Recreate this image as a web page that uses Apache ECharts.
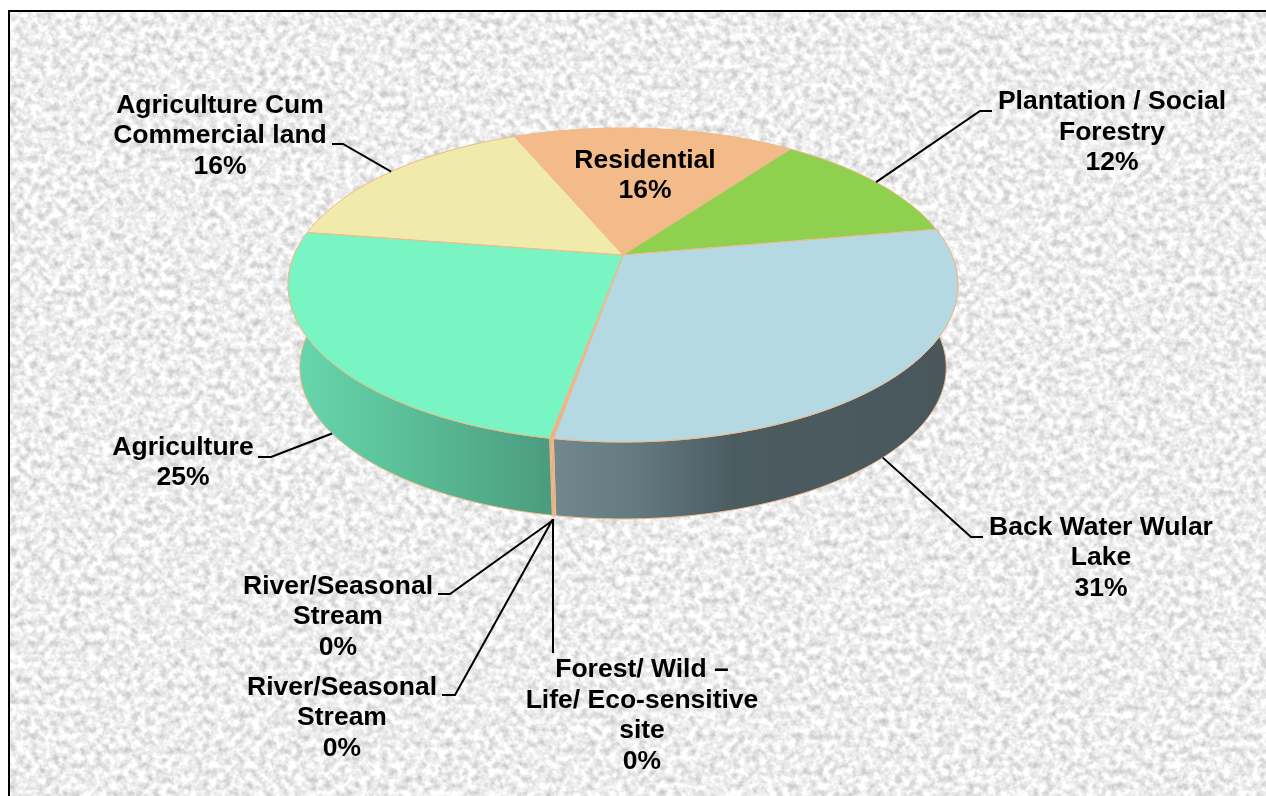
<!DOCTYPE html>
<html><head><meta charset="utf-8">
<style>
html,body{margin:0;padding:0;background:#fff;width:1266px;height:796px;overflow:hidden}
#bg{position:absolute;left:8px;top:10px;width:1256px;height:786px;border:2px solid #000;border-bottom:none;
background-color:#eee;background-image:url("data:image/svg+xml,%3Csvg xmlns='http://www.w3.org/2000/svg' width='1256' height='786'%3E%3Cfilter id='n' x='0' y='0' width='100%25' height='100%25' color-interpolation-filters='sRGB'%3E%3CfeTurbulence type='fractalNoise' baseFrequency='0.14' numOctaves='3' seed='7'/%3E%3CfeColorMatrix values='0.42 0 0 0 0.72 0.42 0 0 0 0.72 0.42 0 0 0 0.72 0 0 0 0 1'/%3E%3C/filter%3E%3Crect width='1256' height='786' filter='url(%23n)'/%3E%3C/svg%3E")}
#c{position:absolute;left:0;top:0;width:1266px;height:796px}
</style>
<script src="https://cdn.jsdelivr.net/npm/echarts@6/dist/echarts.min.js"></script>
</head><body><div id="bg"></div><div id="c"></div>
<script>
const categories = ['Residential','Plantation / Social\nForestry','Back Water Wular\nLake','Forest/ Wild \u2013\nLife/ Eco-sensitive\nsite','River/Seasonal\nStream','River/Seasonal\nStream','Agriculture','Agriculture Cum\nCommercial land'];
const values = [16.4,12.2,30.6,0.05,0.05,0.05,24.6,16.2];
const topColors = ['#f4bb8a','#8fd04e','#b4d9e3','#d0917f','#c98c7c','#c98c7c','#78f5c3','#f0ebaa'];
const sideColors = [null,null,null,'#c98f80','#d09a86','#c98f80',null,null];

// geometry of the tilted disc
const CX=623, CY=255, A=328.8, B=151.3, K=0.191, START=-22.9, LOWER_Y=338.5, LOWER_S=0.965;
const EDGE='#efb98a';
// label layout: text centre, elbow start (next to text), elbow
const layout=[
 {x:645,y:175.5},
 {x:1112,y:132.5,e:[992,111],k:[980,111],ring:'top'},
 {x:1101,y:558,e:[983,537],k:[971,537],ring:'low'},
 {x:642,y:715.5,e:[553,653],tiny:1},
 {x:338,y:617,e:[438,594],k:[450,594],tiny:1},
 {x:342,y:718,e:[442,695],k:[455,695],tiny:1},
 {x:183,y:462.5,e:[258,457],k:[271,457],ring:'low'},
 {x:220,y:136,e:[332,144],k:[343,144],ring:'top'}
];
const total=values.reduce((a,b)=>a+b,0);
function proj(deg,low){
  const r=deg*Math.PI/180,u=Math.sin(r),v=-Math.cos(r),w=1-K*v;
  return low?[CX+LOWER_S*A*u/w,LOWER_Y+LOWER_S*B*v/w]:[CX+A*u/w,CY+B*v/w];
}
function arc(a0,a1,low){
  const n=Math.max(2,Math.ceil(Math.abs(a1-a0))),p=[];
  for(let i=0;i<=n;i++)p.push(proj(a0+(a1-a0)*i/n,low));
  return p;
}
function startAngle(i){let s=0;for(let j=0;j<i;j++)s+=values[j];return START+s/total*360;}
const sideFills={
 2:{type:'linear',x:0,y:0,x2:1,y2:0,colorStops:[{offset:0,color:'#71888f'},{offset:.2,color:'#647a81'},{offset:.45,color:'#4b5c61'},{offset:1,color:'#49575b'}]},
 6:{type:'linear',x:0,y:0,x2:1,y2:0,colorStops:[{offset:0,color:'#68d8af'},{offset:.4,color:'#5cc29b'},{offset:1,color:'#4b9b7e'}]}
};
function renderItem(params,api){
  const i=api.value(0),v=api.value(1);
  const a0=startAngle(i),a1=a0+v/total*360,mid=(a0+a1)/2;
  const kids=[];
  const top=arc(a0,a1,false);
  kids.push({type:'polygon',z2:2,shape:{points:[[CX,CY]].concat(top)},style:{fill:topColors[i],stroke:EDGE,lineWidth:1}});
  const fill=sideFills[i]||sideColors[i];
  if(fill){
    kids.push({type:'polygon',z2:1,shape:{points:top.concat(arc(a1,a0,true))},style:{fill:fill,stroke:EDGE,lineWidth:1}});
  }
  const L=layout[i];
  if(L.e){
    let anchor;
    if(L.tiny){const p=proj(mid,true);anchor=[p[0],p[1]+4];}
    else anchor=proj(mid,L.ring==='low');
    const pts=L.k?[L.e,L.k,anchor]:[L.e,[L.e[0],anchor[1]]];
    kids.push({type:'polyline',z2:3,shape:{points:pts},style:{fill:null,stroke:'#000',lineWidth:2}});
  }
  kids.push({type:'text',z2:4,style:{text:categories[i]+'\n'+Math.round(v)+'%',x:L.x,y:L.y,align:'center',verticalAlign:'middle',
    font:'bold 26.5px "Liberation Sans", Arial, sans-serif',lineHeight:30.6,fill:'#000'}});
  return {type:'group',children:kids};
}
const chart=echarts.init(document.getElementById('c'),null,{renderer:'canvas'});
chart.setOption({
  animation:false,
  backgroundColor:'transparent',
  xAxis:{show:false,min:0,max:1},yAxis:{show:false,min:0,max:1},
  grid:{left:0,right:0,top:0,bottom:0},
  series:[{type:'custom',coordinateSystem:'none',silent:true,clip:false,renderItem:renderItem,
    data:values.map((v,i)=>[i,v])}]
});
</script></body></html>
